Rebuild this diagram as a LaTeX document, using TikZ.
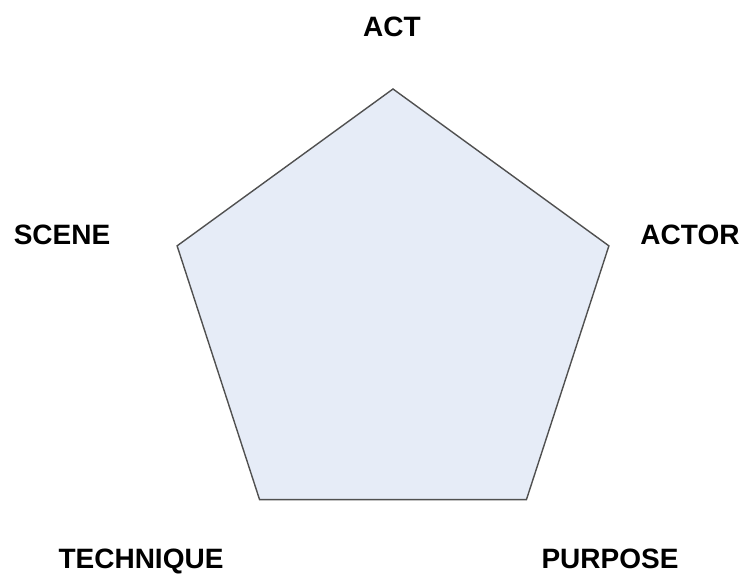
\documentclass[tikz,border=0pt]{standalone}
\usepackage{fontspec}
\setmainfont{Liberation Sans}
\definecolor{pentfill}{RGB}{230, 236, 247}
\definecolor{pentline}{RGB}{80, 80, 80}
\usetikzlibrary{shapes.geometric, positioning}
\tikzset{
	pent/.style={regular polygon, regular polygon sides=5, minimum size=454pt, inner sep=0pt, outer sep=0pt, draw=pentline, fill=pentfill, line width=1.4pt},
	ratio/.style={anchor=base, inner sep=0pt, font=\fontsize{28}{34}\selectfont\bfseries, text=black},
}

\begin{document}
\begin{tikzpicture}[x=1pt, y=1pt]
		\useasboundingbox (0,0) rectangle (742,575);
		\node[pent] (penta) at (393,259) {};
		\node[ratio] (act) at (392,538) {ACT};
		\node[ratio] (scene) at (62,330) {SCENE};
		\node[ratio] (actor) at (690,330) {ACTOR};
		\node[ratio] (tech) at (141,6) {TECHNIQUE};
		\node[ratio] (purp) at (610,6) {PURPOSE};
	\end{tikzpicture}
\end{document}
